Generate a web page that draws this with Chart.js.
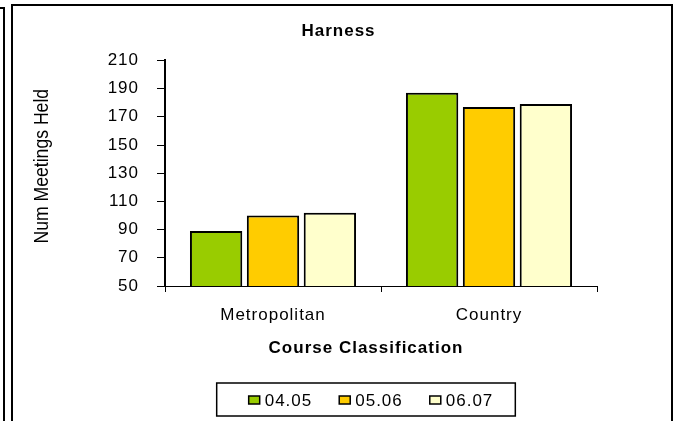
<!DOCTYPE html>
<html>
<head>
<meta charset="utf-8">
<script src="https://cdn.jsdelivr.net/npm/chart.js@4/dist/chart.umd.min.js"></script>
<style>
  html, body { margin: 0; padding: 0; background: #fff; }
  canvas { display: block; }
</style>
</head>
<body>
<canvas id="myChart" width="677" height="421"></canvas>
<script>
// data
const categories = ['Metropolitan', 'Country'];
const seasons = ['04.05', '05.06', '06.07'];
const values0405 = [89, 187];
const values0506 = [100, 177];
const values0607 = [102, 179];
const yTicks = [50, 70, 90, 110, 130, 150, 170, 190, 210];
const colours = ['#99CC00', '#FFCC00', '#FFFFCC'];

const xTitle = 'Course Classification';
const yTitle = 'Num Meetings Held';

const FONT = '"Liberation Sans", Arial, sans-serif';
const SPACING = '1px';

// excel-ish text has a bit of extra letter spacing
const spacing = {
  id: 'spacing',
  beforeUpdate(chart) { chart.ctx.letterSpacing = SPACING; },
  beforeDraw(chart) { chart.ctx.letterSpacing = SPACING; }
};

// outer frame + edge of the neighbouring chart
const frame = {
  id: 'frame',
  beforeDraw(chart) {
    const ctx = chart.ctx;
    const w = chart.width, h = chart.height;
    ctx.save();
    ctx.fillStyle = '#fff';
    ctx.fillRect(0, 0, w, h);
    ctx.strokeStyle = '#000';
    ctx.lineWidth = 2;
    ctx.beginPath();
    ctx.moveTo(0, 8); ctx.lineTo(4, 8); ctx.lineTo(4, h);
    ctx.moveTo(12, h); ctx.lineTo(12, 5); ctx.lineTo(w - 5, 5); ctx.lineTo(w - 5, h);
    ctx.stroke();
    ctx.restore();
  }
};

// axis titles: both sit a little left/up of the plot centre, y one is narrow
const axisTitles = {
  id: 'axisTitles',
  afterDraw(chart) {
    const ctx = chart.ctx;
    const area = chart.chartArea;
    const cx = (area.left + area.right) / 2 - 15;
    ctx.save();
    ctx.fillStyle = '#000';
    ctx.textAlign = 'center';
    ctx.textBaseline = 'middle';
    ctx.letterSpacing = SPACING;
    ctx.font = 'bold 17px ' + FONT;
    ctx.fillText(xTitle, cx, area.bottom + 62);
    ctx.letterSpacing = '0px';
    ctx.translate(42, (area.top + area.bottom) / 2 - 7);
    ctx.rotate(-Math.PI / 2);
    ctx.scale(0.88, 1);
    ctx.font = '20px ' + FONT;
    ctx.fillText(yTitle, 0, 0);
    ctx.restore();
  }
};

// boxed legend under the axis title
const boxLegend = {
  id: 'boxLegend',
  afterDraw(chart) {
    const ctx = chart.ctx;
    const sets = chart.data.datasets;
    const sw = 11, sh = 8, gapText = 5, gapItem = 27;
    ctx.save();
    ctx.letterSpacing = SPACING;
    ctx.font = '17px ' + FONT;
    const widths = sets.map(d => ctx.measureText(d.label).width);
    const total = widths.reduce((a, w) => a + sw + gapText + w, 0) + gapItem * (sets.length - 1);
    const area = chart.chartArea;
    const cx = (area.left + area.right) / 2 - 10;
    const cy = area.bottom + 114;
    let x = cx - total / 2;
    ctx.strokeStyle = '#000';
    ctx.lineWidth = 1.5;
    ctx.strokeRect(x - 32, cy - 17, total + 54, 33);
    ctx.textBaseline = 'middle';
    sets.forEach((d, i) => {
      ctx.fillStyle = d.backgroundColor;
      ctx.fillRect(x, cy - sh / 2, sw, sh);
      ctx.lineWidth = 1.5;
      ctx.strokeRect(x, cy - sh / 2, sw, sh);
      ctx.fillStyle = '#000';
      ctx.fillText(d.label, x + sw + gapText, cy + 1);
      x += sw + gapText + widths[i] + gapItem;
    });
    ctx.restore();
  }
};

const seriesValues = [values0405, values0506, values0607];

new Chart(document.getElementById('myChart').getContext('2d'), {
  type: 'bar',
  data: {
    labels: categories,
    datasets: seasons.map((s, i) => ({
      label: s,
      data: seriesValues[i],
      backgroundColor: colours[i],
      borderColor: '#000',
      borderWidth: 2,
      borderSkipped: false,
      categoryPercentage: 0.79,
      barPercentage: 0.92
    }))
  },
  options: {
    responsive: false,
    animation: false,
    layout: { padding: { left: 11, right: 11, top: 0, bottom: 0 } },
    plugins: {
      legend: { display: false },
      tooltip: { enabled: false },
      title: {
        display: true,
        text: 'Harness',
        color: '#000',
        font: { family: FONT, size: 17, weight: 'bold' },
        padding: { top: 21, bottom: 19 }
      }
    },
    scales: {
      x: {
        grid: { offset: true, drawOnChartArea: false, drawTicks: true, tickLength: 6, color: '#000' },
        border: { color: '#000', width: 1 },
        ticks: { color: '#000', padding: 13, font: { family: FONT, size: 17 } },
        afterFit(s) { s.height = 135; }
      },
      y: {
        min: yTicks[0],
        max: yTicks[yTicks.length - 1],
        afterBuildTicks(s) { s.ticks = yTicks.map(v => ({ value: v })); },
        grid: { drawOnChartArea: false, drawTicks: true, tickLength: 8, color: '#000' },
        border: { color: '#000', width: 2 },
        ticks: { color: '#000', padding: 18, font: { family: FONT, size: 17 } },
        afterFit(s) { s.width = 154; }
      },
      yR: {
        position: 'right',
        grid: { display: false },
        ticks: { display: false },
        border: { display: false },
        afterFit(s) { s.width = 69; }
      }
    }
  },
  plugins: [spacing, frame, axisTitles, boxLegend]
});
</script>
</body>
</html>
